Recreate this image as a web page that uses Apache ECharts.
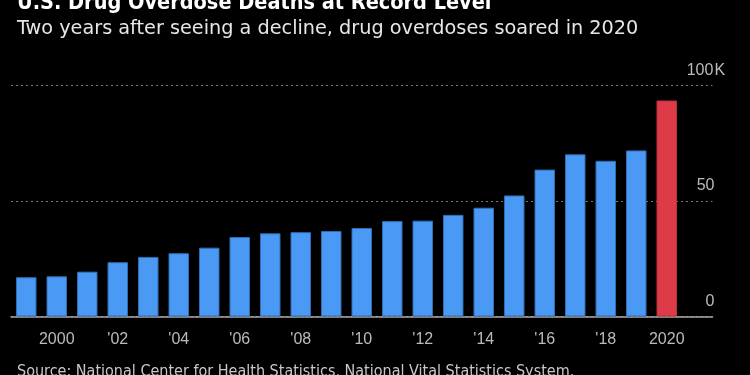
<!DOCTYPE html>
<html>
<head>
<meta charset="utf-8">
<script src="https://cdn.jsdelivr.net/npm/echarts@6/dist/echarts.min.js"></script>
<style>html,body{margin:0;padding:0;background:#000;}#c{width:750px;height:375px;}</style>
</head>
<body>
<div id="c"></div>
<script>
const years = ['1999','2000','2001','2002','2003','2004','2005','2006','2007','2008','2009','2010','2011','2012','2013','2014','2015','2016','2017','2018','2019','2020',''];
const tickLabels = {'2000':'2000','2002':"'02",'2004':"'04",'2006':"'06",'2008':"'08",'2010':"'10",'2012':"'12",'2014':"'14",'2016':"'16",'2018':"'18",'2020':'2020'};
const deaths = [17.0, 17.4, 19.4, 23.5, 25.8, 27.4, 29.8, 34.4, 36.0, 36.5, 37.0, 38.3, 41.3, 41.5, 44.0, 47.1, 52.4, 63.6, 70.2, 67.4, 71.9, 93.5, null];
const yTicks = [0, 50, 100];

const chart = echarts.init(document.getElementById('c'));
const cond = '"DejaVu Sans Condensed", "Liberation Sans Narrow", sans-serif';
const dv = '"DejaVu Sans", sans-serif';
const sans = '"Liberation Sans", Arial, sans-serif';
chart.setOption({
  backgroundColor: '#000',
  animation: false,
  title: [
    {text: 'U.S. Drug Overdose Deaths at Record Level', left: 12, top: -13,
     textStyle: {color: '#fff', fontFamily: cond, fontWeight: 'bold', fontSize: 21.5}},
    {text: 'Two years after seeing a decline, drug overdoses soared in 2020', left: 12, top: 14,
     textStyle: {color: '#e6e6e6', fontFamily: dv, fontWeight: 'normal', fontSize: 19.25}},
    {text: 'Source: National Center for Health Statistics, National Vital Statistics System.', left: 12, top: 359,
     textStyle: {color: '#c8c8c8', fontFamily: cond, fontWeight: 'normal', fontSize: 16}}
  ],
  grid: {left: 11, right: 37.5, top: 85.5, bottom: 58.5},
  xAxis: {
    type: 'category', data: years, boundaryGap: true,
    axisLine: {lineStyle: {color: '#aaa', width: 1.5}},
    axisTick: {alignWithLabel: true, length: 7, lineStyle: {color: '#aaa', width: 1.5},
      interval: (i, v) => tickLabels[v] !== undefined},
    axisLabel: {color: '#bbb', fontFamily: sans, fontSize: 16, margin: 15,
      interval: (i, v) => tickLabels[v] !== undefined,
      formatter: v => tickLabels[v] || ''}
  },
  yAxis: {
    type: 'value', position: 'right', min: 0, max: 100, interval: 50,
    axisLine: {show: false}, axisTick: {show: false},
    splitLine: {show: true, lineStyle: {color: '#777', type: [2, 3], width: 1}},
    axisLabel: {color: '#bbb', fontFamily: sans, fontSize: 16, margin: -27, align: 'left',
      verticalAlign: 'bottom', padding: [0, 0, 7, 0],
      formatter: v => '{n|' + v + '}' + (v === 100 ? 'K' : ''),
      rich: {n: {width: 29, align: 'right', color: '#bbb', fontFamily: sans, fontSize: 16}}}
  },
  series: [{
    type: 'bar', data: deaths.map((v, i) => ({value: v, itemStyle: {color: years[i] === '2020' ? '#dc3b47' : '#4a9af5', borderColor: years[i] === '2020' ? '#b8303b' : '#2f6db3'}})),
    barWidth: 20.5,
    itemStyle: {borderWidth: 1}
  }]
});
</script>
</body>
</html>
